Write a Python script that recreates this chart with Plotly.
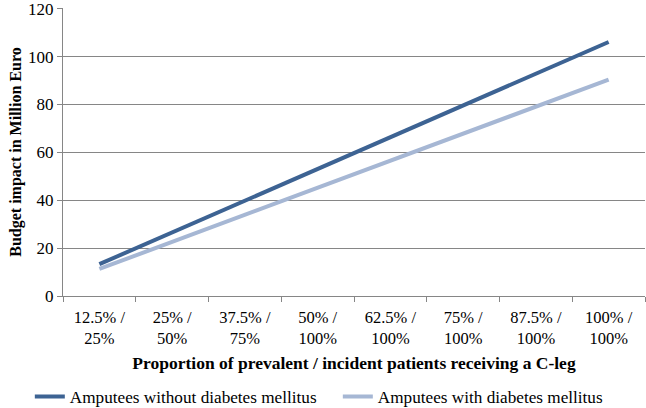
import plotly.graph_objects as go

categories = ["12.5% /<br>25%", "25% /<br>50%", "37.5% /<br>75%", "50% /<br>100%",
              "62.5% /<br>100%", "75% /<br>100%", "87.5% /<br>100%", "100% /<br>100%"]
without_dm = [13.3, 26.5, 39.8, 53.0, 66.3, 79.6, 92.8, 106.1]
with_dm = [11.3, 22.6, 33.9, 45.2, 56.5, 67.8, 79.1, 90.4]
y_ticks = [0, 20, 40, 60, 80, 100, 120]

font_family = "Liberation Serif, Times New Roman, serif"

fig = go.Figure()
fig.add_trace(go.Scatter(x=categories, y=without_dm, mode="lines",
                         name="Amputees without diabetes mellitus",
                         legendwidth=263,
                         line=dict(color="#3D6393", width=4)))
fig.add_trace(go.Scatter(x=categories, y=with_dm, mode="lines",
                         name="Amputees with diabetes mellitus",
                         line=dict(color="#A6B7D4", width=4)))

fig.update_layout(
    width=646, height=408,
    margin=dict(l=63, r=1, t=8, b=112, autoexpand=False),
    paper_bgcolor="white", plot_bgcolor="white",
    font=dict(family=font_family, size=16, color="black"),
    showlegend=True,
    legend=dict(orientation="h", x=-0.057, xanchor="left", y=-0.35, yanchor="middle",
                font=dict(size=17.2), traceorder="normal"),
    xaxis=dict(
        type="category", range=[-0.5, 7.5], showgrid=False, automargin=False,
        showline=True, linecolor="#868686", linewidth=1,
        ticks="outside", tickson="boundaries", ticklen=5, tickcolor="#868686",
        tickfont=dict(size=16.5), ticklabeloverflow="allow", ticklabelstandoff=6,
        title=dict(text="<b>Proportion of prevalent / incident patients receiving a C-leg</b>",
                   font=dict(size=17.5), standoff=9),
    ),
    yaxis=dict(
        range=[0, 120.3], tickmode="array", tickvals=y_ticks, automargin=False,
        showgrid=True, gridcolor="#868686", gridwidth=1,
        showline=True, linecolor="#868686", linewidth=1,
        ticks="outside", ticklen=5, tickcolor="#868686",
        tickfont=dict(size=17), zeroline=False, ticklabeloverflow="allow",
        title=dict(text="<b>Budget impact in Million Euro</b>", font=dict(size=16), standoff=2),
    ),
)

fig.write_html("out.html", config={"displayModeBar": False},
               post_script="document.body.style.margin='0';")
